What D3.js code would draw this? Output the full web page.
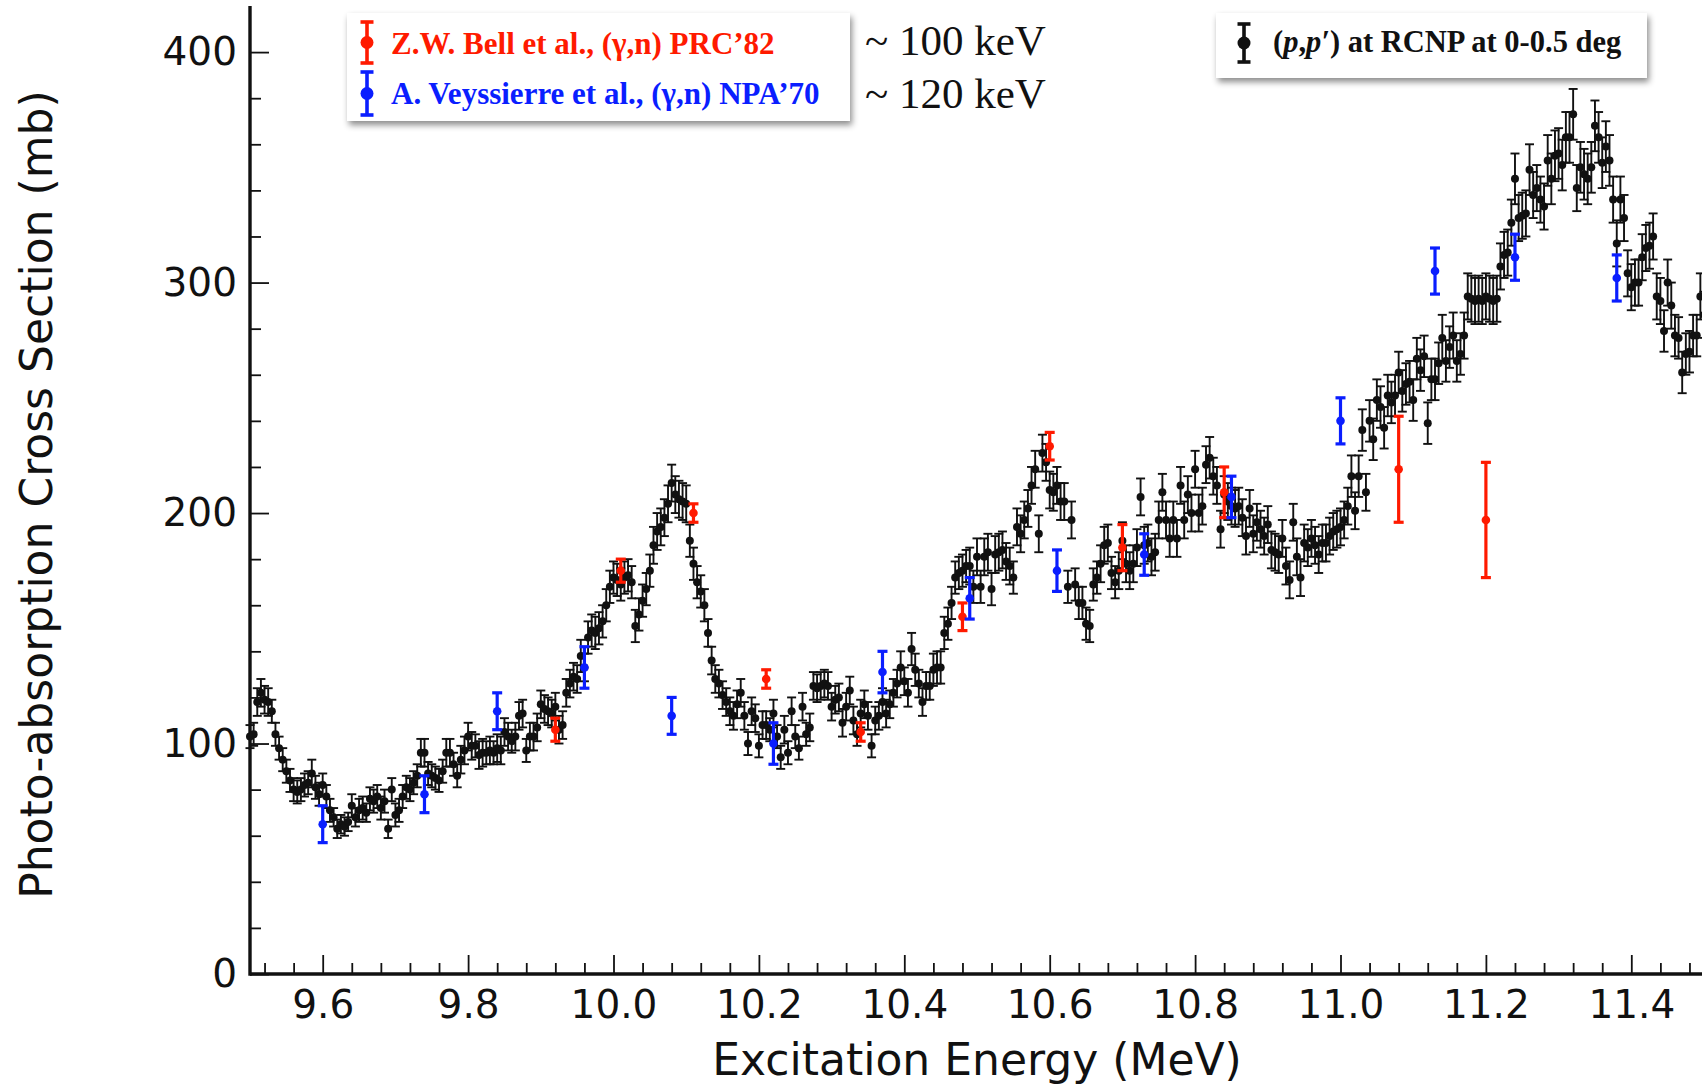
<!DOCTYPE html>
<html>
<head>
<meta charset="utf-8">
<script src="https://cdn.jsdelivr.net/npm/d3@7"></script>
<style>
  html, body { margin: 0; padding: 0; background: #fff; overflow: hidden; }
  svg { display: block; }
</style>
</head>
<body>
<svg id="chart" width="1702" height="1086"></svg>
<script>
// (p,p') photo-absorption cross section, 5 keV bins starting at 9.500 MeV (mb)
const protonStart = 9.5;
const protonStep = 0.005;
const protonXs = [
  103,104,118,122,119,118,114,104,98,93,
  88,84,80,79,80,82,83,87,81,78,
  82,77,71,68,63,65,64,66,73,68,
  71,72,70,76,75,77,72,75,63,80,
  69,71,77,81,80,83,86,96,96,87,
  86,85,84,88,96,96,91,86,93,97,
  103,99,99,95,96,96,97,96,98,97,
  105,103,101,103,112,113,97,103,103,107,
  117,115,114,113,116,106,108,122,126,129,
  128,138,133,146,149,148,150,153,160,168,
  172,171,169,172,173,170,151,156,162,167,
  175,186,192,194,198,204,213,208,206,205,
  204,188,178,170,166,160,148,136,128,126,
  121,118,114,112,117,122,112,100,114,111,
  99,108,108,106,113,103,94,106,96,114,
  103,98,116,104,107,125,124,125,126,125,
  116,119,120,109,116,123,110,104,113,117,
  112,99,110,112,118,113,117,122,126,133,
  127,122,141,132,126,118,125,125,132,133,
  133,148,152,161,172,174,175,177,177,168,
  181,168,181,183,167,182,183,184,179,177,
  172,194,191,197,202,212,219,191,226,222,
  210,209,212,205,205,168,197,169,161,161,
  152,151,169,172,178,186,187,174,170,175,
  188,178,175,178,185,207,186,187,181,183,
  197,209,197,189,197,189,212,197,208,200,
  219,200,203,221,224,216,212,193,208,205,
  203,202,203,198,190,202,191,196,193,190,
  195,184,183,182,189,177,171,196,181,172,
  187,185,189,186,182,187,187,190,192,193,
  194,197,203,216,201,216,236,209,240,232,
  249,246,237,251,248,251,261,253,256,257,
  249,267,262,268,239,258,258,265,276,266,
  272,277,266,269,277,294,293,292,293,292,
  294,293,292,293,307,312,313,326,345,328,
  329,330,349,338,341,336,333,353,345,355,
  356,351,363,363,373,341,350,347,345,350,
  368,363,352,359,353,336,317,336,328,304,
  298,300,300,311,315,316,320,294,292,279,
  300,290,277,276,261,269,270,277,277,294,
  286
];
const protonErr = [
  5,5,6,6,6,6,5,5,5,5,
  5,5,5,5,5,5,5,6,5,5,
  5,5,5,4,4,4,4,4,5,4,
  5,5,4,5,5,5,5,5,4,5,
  5,5,5,5,5,5,5,6,6,5,
  5,5,5,5,6,6,5,5,6,6,
  6,6,5,6,6,5,6,5,6,6,
  6,6,5,6,6,6,5,6,6,6,
  6,6,6,6,6,6,6,6,6,6,
  6,7,6,7,7,7,7,7,7,7,
  7,7,7,7,7,7,7,7,7,7,
  7,8,8,8,8,8,8,8,8,8,
  8,7,7,7,7,7,6,6,6,6,
  6,6,6,6,6,6,6,5,6,6,
  5,6,6,5,6,5,5,6,5,6,
  5,5,6,5,6,6,6,6,6,6,
  6,6,6,6,6,6,6,5,6,6,
  6,5,6,6,6,6,6,6,6,7,
  6,6,7,7,6,6,6,6,7,7,
  7,7,7,7,7,7,7,7,8,7,
  8,7,8,8,7,8,8,8,8,8,
  7,8,8,8,8,8,8,8,8,8,
  8,8,8,8,8,7,8,7,7,7,
  7,7,7,7,8,8,8,7,7,8,
  8,8,8,8,8,8,8,8,8,8,
  8,8,8,8,8,8,8,8,8,8,
  8,8,8,8,9,8,8,8,8,8,
  8,8,8,8,8,8,8,8,8,8,
  8,8,8,8,8,8,8,8,8,8,
  8,8,8,8,8,8,8,8,8,8,
  8,8,8,9,8,9,9,8,9,9,
  9,9,9,9,9,9,9,9,9,9,
  9,9,9,9,9,9,9,9,10,9,
  9,10,9,9,10,10,10,10,10,10,
  10,10,10,10,10,10,10,10,11,10,
  10,10,11,10,10,10,10,11,11,11,
  11,11,11,11,11,10,11,11,11,11,
  11,11,11,11,11,10,10,10,10,10,
  10,10,10,10,10,10,10,10,10,9,
  10,10,9,9,9,9,9,9,9,10,
  10
];

// Z.W. Bell et al., (gamma,n) PRC'82
const bellE   = [9.92, 10.01, 10.11, 10.21, 10.34, 10.48, 10.60, 10.70, 10.84, 11.08, 11.20];
const bellXs  = [106, 175, 200, 128, 105, 155, 229, 185, 209, 219, 197];
const bellErr = [5, 5, 4, 4, 4, 6, 6, 10, 11, 23, 25];

// A. Veyssierre et al., (gamma,n) NPA'70
const veyE   = [9.60, 9.74, 9.84, 9.96, 10.08, 10.22, 10.37, 10.49, 10.61, 10.73, 10.85, 11.00, 11.13, 11.24, 11.38];
const veyXs  = [65, 78, 114, 133, 112, 100, 131, 163, 175, 182, 207, 240, 305, 311, 302];
const veyErr = [8, 8, 8, 9, 8, 9, 9, 9, 9, 9, 9, 10, 10, 10, 10];

const xMajorTicks = [9.6, 9.8, 10.0, 10.2, 10.4, 10.6, 10.8, 11.0, 11.2, 11.4];
const yMajorTicks = [0, 100, 200, 300, 400];

const RED = "#ff1a00";
const BLUE = "#0a1eff";

const svg = d3.select("#chart");

const x = d3.scaleLinear().domain([9.5, 11.5]).range([250, 1704]);
const y = d3.scaleLinear().domain([0, 420]).range([974, 6]);

// drop shadow for the legend boxes
const defs = svg.append("defs");
const shadow = defs.append("filter").attr("id", "shadow")
  .attr("x", "-10%").attr("y", "-30%").attr("width", "130%").attr("height", "180%");
shadow.append("feDropShadow").attr("dx", 2).attr("dy", 4).attr("stdDeviation", 3)
  .attr("flood-color", "#000").attr("flood-opacity", 0.45);

// ---- axes ----
const tickFont = "'DejaVu Sans', Verdana, sans-serif";

const xMinor = d3.range(9.52, 11.5, 0.04).filter(v => Math.abs(v * 5 - Math.round(v * 5)) > 1e-6);
const yMinor = d3.range(20, 400, 20).filter(v => v % 100 !== 0);

const xAxisMinor = svg.append("g").attr("transform", `translate(0,${y(0)})`)
  .call(d3.axisBottom(x).tickValues(xMinor).tickSize(-11).tickSizeOuter(0).tickFormat(""));
const xAxisMajor = svg.append("g").attr("transform", `translate(0,${y(0)})`)
  .call(d3.axisBottom(x).tickValues(xMajorTicks).tickSize(-19).tickSizeOuter(0)
    .tickPadding(16).tickFormat(d3.format(".1f")));

const yAxisMinor = svg.append("g").attr("transform", `translate(${x(9.5)},0)`)
  .call(d3.axisLeft(y).tickValues(yMinor).tickSize(-11).tickSizeOuter(0).tickFormat(""));
const yAxisMajor = svg.append("g").attr("transform", `translate(${x(9.5)},0)`)
  .call(d3.axisLeft(y).tickValues(yMajorTicks).tickSize(-19).tickSizeOuter(0)
    .tickPadding(13).tickFormat(d3.format("d")));

[xAxisMinor, xAxisMajor, yAxisMinor, yAxisMajor].forEach(g => {
  g.select(".domain").remove();
  g.selectAll(".tick line").attr("stroke", "#111").attr("stroke-width", 1.8);
  g.selectAll(".tick text").attr("fill", "#111")
    .style("font-family", tickFont).style("font-size", "39px");
});

// axis lines
svg.append("line")
  .attr("x1", x(9.5)).attr("x2", 1702).attr("y1", y(0)).attr("y2", y(0))
  .attr("stroke", "#111").attr("stroke-width", 3.4);
svg.append("line")
  .attr("x1", x(9.5)).attr("x2", x(9.5)).attr("y1", y(0) + 1.7).attr("y2", y(420))
  .attr("stroke", "#111").attr("stroke-width", 3.4);

// axis titles
svg.append("text")
  .attr("x", (x(9.5) + x(11.5)) / 2).attr("y", 1075)
  .attr("text-anchor", "middle")
  .style("font-family", tickFont).style("font-size", "44px").attr("fill", "#111")
  .text("Excitation Energy (MeV)");

svg.append("text")
  .attr("transform", `translate(52,${y(208)}) rotate(-90)`)
  .attr("text-anchor", "middle")
  .style("font-family", tickFont).style("font-size", "44px").attr("fill", "#111")
  .text("Photo-absorption Cross Section (mb)");

// ---- data ----
function drawSeries(pts, color, opts) {
  const g = svg.append("g");
  const p = g.selectAll("g.pt").data(pts).join("g").attr("class", "pt");
  p.append("line")
    .attr("x1", d => x(d.e)).attr("x2", d => x(d.e))
    .attr("y1", d => y(d.v - d.err)).attr("y2", d => y(d.v + d.err))
    .attr("stroke", color).attr("stroke-width", opts.lw);
  p.append("line")
    .attr("x1", d => x(d.e) - opts.cap / 2).attr("x2", d => x(d.e) + opts.cap / 2)
    .attr("y1", d => y(d.v + d.err)).attr("y2", d => y(d.v + d.err))
    .attr("stroke", color).attr("stroke-width", opts.lw);
  p.append("line")
    .attr("x1", d => x(d.e) - opts.cap / 2).attr("x2", d => x(d.e) + opts.cap / 2)
    .attr("y1", d => y(d.v - d.err)).attr("y2", d => y(d.v - d.err))
    .attr("stroke", color).attr("stroke-width", opts.lw);
  p.append("circle")
    .attr("cx", d => x(d.e)).attr("cy", d => y(d.v)).attr("r", opts.r)
    .attr("fill", color);
}

const protonPts = protonXs.map((v, i) => ({ e: protonStart + i * protonStep, v, err: protonErr[i] }));
const bellPts = bellE.map((e, i) => ({ e, v: bellXs[i], err: bellErr[i] }));
const veyPts = veyE.map((e, i) => ({ e, v: veyXs[i], err: veyErr[i] }));

drawSeries(protonPts, "#111", { lw: 1.9, cap: 9, r: 4 });
drawSeries(bellPts, RED, { lw: 3.2, cap: 10, r: 4.3 });
drawSeries(veyPts, BLUE, { lw: 3.2, cap: 10, r: 4.3 });

// ---- legends ----
const serif = "'Liberation Serif', 'Times New Roman', serif";

function legendIcon(cx, top, bottom, color) {
  const g = svg.append("g");
  g.append("line").attr("x1", cx).attr("x2", cx).attr("y1", top).attr("y2", bottom)
    .attr("stroke", color).attr("stroke-width", 3.6);
  [top, bottom].forEach(yy => g.append("line")
    .attr("x1", cx - 6.5).attr("x2", cx + 6.5).attr("y1", yy).attr("y2", yy)
    .attr("stroke", color).attr("stroke-width", 3.6));
  g.append("circle").attr("cx", cx).attr("cy", (top + bottom) / 2).attr("r", 6.5).attr("fill", color);
}

// (gamma,n) legend
svg.append("rect").attr("x", 347).attr("y", 13).attr("width", 503).attr("height", 108)
  .attr("fill", "#fff").attr("filter", "url(#shadow)");
legendIcon(367, 22, 63, RED);
legendIcon(367, 72, 115, BLUE);
svg.append("text").attr("x", 391).attr("y", 54)
  .style("font-family", serif).style("font-size", "31px").style("font-weight", "bold")
  .attr("fill", RED).text("Z.W. Bell et al., (\u03b3,n) PRC\u201982");
svg.append("text").attr("x", 391).attr("y", 104)
  .style("font-family", serif).style("font-size", "31px").style("font-weight", "bold")
  .attr("fill", BLUE).text("A. Veyssierre et al., (\u03b3,n) NPA\u201970");

// resolution notes
svg.append("text").attr("x", 865).attr("y", 55)
  .style("font-family", serif).style("font-size", "43px").attr("fill", "#111")
  .text("~ 100 keV");
svg.append("text").attr("x", 865).attr("y", 108)
  .style("font-family", serif).style("font-size", "43px").attr("fill", "#111")
  .text("~ 120 keV");

// (p,p') legend
svg.append("rect").attr("x", 1216).attr("y", 13).attr("width", 431).attr("height", 65)
  .attr("fill", "#fff").attr("filter", "url(#shadow)");
legendIcon(1244, 24, 62, "#111");
const pt = svg.append("text").attr("x", 1273).attr("y", 52)
  .style("font-family", serif).style("font-size", "30.5px").style("font-weight", "bold")
  .attr("fill", "#111");
pt.append("tspan").text("(");
pt.append("tspan").style("font-style", "italic").text("p");
pt.append("tspan").text(",");
pt.append("tspan").style("font-style", "italic").text("p\u2032");
pt.append("tspan").text(") at RCNP at 0-0.5 deg");
</script>
</body>
</html>
